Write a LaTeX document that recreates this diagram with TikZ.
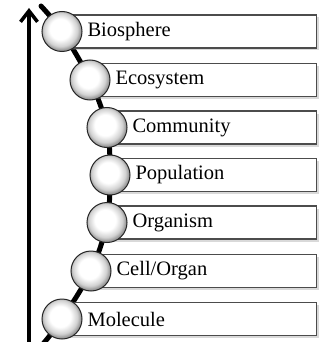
\documentclass[tikz,border=0pt]{standalone}
\usepackage{fontspec}
\setmainfont{Liberation Serif}
\usetikzlibrary{arrows.meta,shadows}

\pgfdeclareradialshading{beadshade}{\pgfpoint{-3bp}{4bp}}{%
  color(0bp)=(white); color(13bp)=(white); color(21bp)=(black!18);
  color(25bp)=(black!40); color(50bp)=(black!40)}
\tikzset{
  levelbox/.style={draw=black!70, line width=1.1pt, fill=white, anchor=west,
    minimum height=33pt, inner xsep=25pt, align=left,
    font=\fontsize{20.5}{22}\selectfont,
    drop shadow={opacity=0.3, shadow xshift=2pt, shadow yshift=-2.5pt}},
  bead/.style={circle, draw=black!85, line width=1pt, minimum size=40pt,
    inner sep=0pt, shading=beadshade},
}
\def\boxright{316}

\begin{document}
\begin{tikzpicture}[x=1pt, y=-1pt]
    \useasboundingbox (0,0) rectangle (328,342);
    % scale of levels
    \draw[line width=3.5pt, -{Straight Barb[length=11pt,width=17pt,line width=3.5pt]}]
        (29,342) -- (29,8);
    \coordinate (top) at (41,6);
    \coordinate (bot) at (43,344);
    \foreach \x/\y [count=\i] in {62/31.5, 90/80, 107/127.5, 110/175, 107/222.5, 91/271, 62/319}
        \coordinate (p\i) at (\x,\y);
    % backbone through the levels
    \draw[line width=5pt, line cap=round] plot[smooth, tension=0.55] coordinates
        {(top) (p1) (p2) (p3) (p4) (p5) (p6) (p7) (bot)};
    \foreach \x/\lbl [count=\i] in {62/Biosphere, 90/Ecosystem, 107/Community,
            110/Population, 107/Organism, 91/{Cell/Organ}, 62/Molecule} {
        \pgfmathsetmacro\tw{\boxright-\x-50}
        \node[levelbox, text width=\tw pt] (box\i) at (p\i) {\lbl};
        \node[bead] (bead\i) at (p\i) {};
    }
\end{tikzpicture}
\end{document}
